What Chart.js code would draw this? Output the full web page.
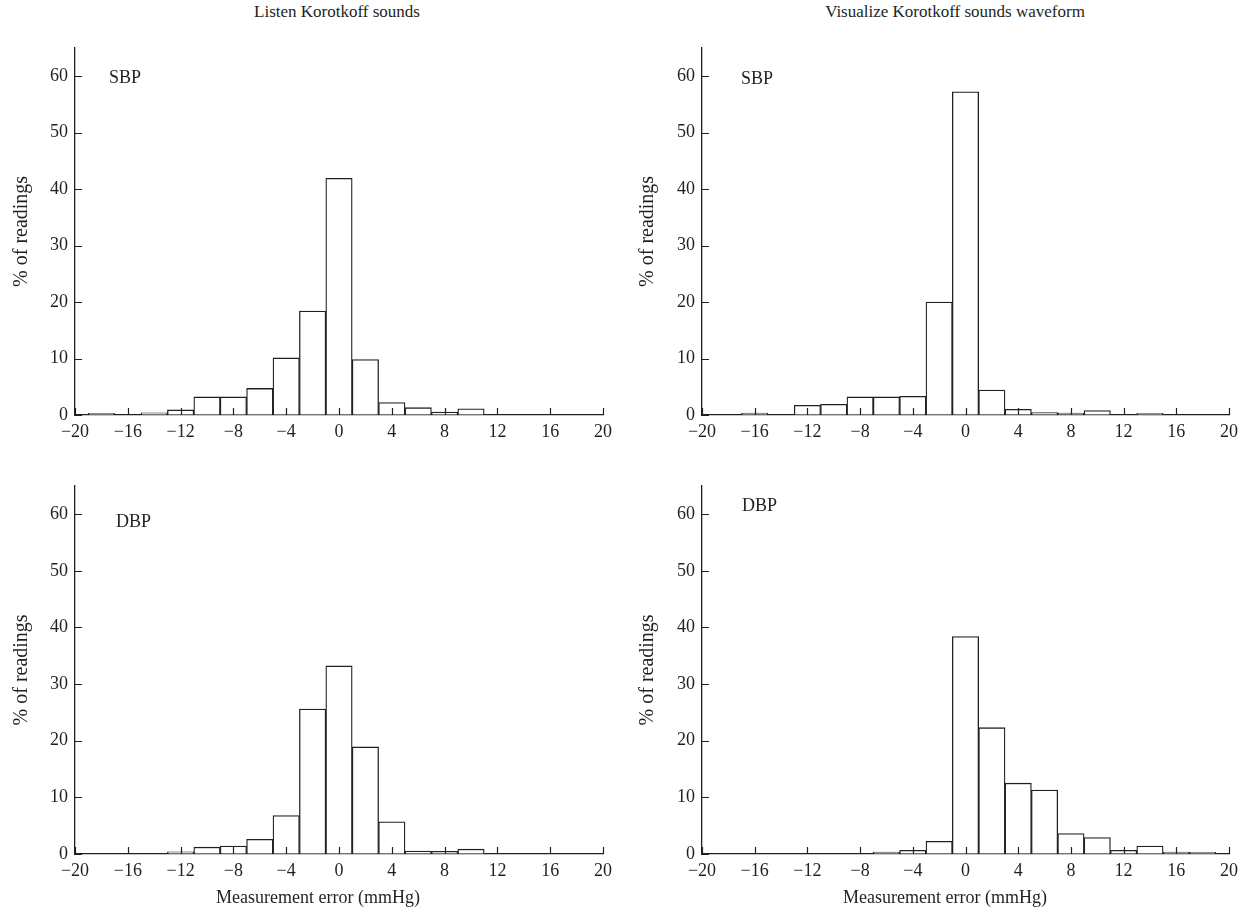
<!DOCTYPE html>
<html>
<head>
<meta charset="utf-8">
<title>Korotkoff measurement error</title>
<script src="https://cdn.jsdelivr.net/npm/chart.js@4"></script>
<style>
  body { margin: 0; background: #fff; }
  #page { position: relative; width: 1249px; height: 915px; overflow: hidden; font-family: "Liberation Serif", "DejaVu Serif", serif; color: #231f20; }
  .panel { position: absolute; }
  .centered { position: absolute; white-space: nowrap; transform: translateX(-50%); }
</style>
</head>
<body>
<div id="page">
  <div class="centered" style="left:337px; top:2px; font-size:17px">Listen Korotkoff sounds</div>
  <div class="centered" style="left:955px; top:2px; font-size:17px">Visualize Korotkoff sounds waveform</div>

  <div class="panel" style="left:0; top:30px"><canvas id="listenSbp" width="620" height="420"></canvas></div>
  <div class="panel" style="left:625px; top:30px"><canvas id="visualSbp" width="624" height="420"></canvas></div>
  <div class="panel" style="left:0; top:468px"><canvas id="listenDbp" width="620" height="420"></canvas></div>
  <div class="panel" style="left:625px; top:468px"><canvas id="visualDbp" width="624" height="420"></canvas></div>

  <div class="centered" style="left:318px; top:887px; font-size:18px">Measurement error (mmHg)</div>
  <div class="centered" style="left:945px; top:887px; font-size:18px">Measurement error (mmHg)</div>
</div>

<script>
// bin centres (mmHg), each bin is 2 mmHg wide
const bins = [-18, -16, -14, -12, -10, -8, -6, -4, -2, 0, 2, 4, 6, 8, 10, 12, 14, 16, 18];

// % of readings per bin
const listenSbp = [0.3, 0, 0.4, 0.9, 3.2, 3.2, 4.7, 10.1, 18.4, 41.9, 9.8, 2.2, 1.3, 0.5, 1.1, 0, 0, 0, 0];
const visualSbp = [0, 0.35, 0, 1.7, 1.9, 3.2, 3.2, 3.3, 20.0, 57.2, 4.4, 1.0, 0.45, 0.35, 0.8, 0, 0.3, 0, 0];
const listenDbp = [0, 0, 0, 0.4, 1.2, 1.4, 2.6, 6.8, 25.6, 33.2, 18.9, 5.7, 0.5, 0.45, 0.85, 0, 0, 0, 0];
const visualDbp = [0, 0, 0, 0, 0, 0, 0.35, 0.65, 2.25, 38.4, 22.3, 12.5, 11.3, 3.6, 2.9, 0.65, 1.4, 0.35, 0.3];

const xTicks = [-20, -16, -12, -8, -4, 0, 4, 8, 12, 16, 20];
const yTicks = [0, 10, 20, 30, 40, 50, 60];

const ink = "#231f20";
const serif = '"Liberation Serif", "DejaVu Serif", serif';

// short ticks drawn inside the plot, plus the SBP / DBP tag
const insideTicks = {
    id: "insideTicks",
    afterDraw(chart, args, opts) {
        const { ctx, chartArea, scales } = chart;
        ctx.save();
        ctx.strokeStyle = ink;
        ctx.lineWidth = 1.2;
        ctx.beginPath();
        scales.x.ticks.forEach(t => {
            const px = Math.round(scales.x.getPixelForValue(t.value)) + 0.5;
            ctx.moveTo(px, chartArea.bottom);
            ctx.lineTo(px, chartArea.bottom - 7);
        });
        scales.y.ticks.forEach(t => {
            const py = Math.round(scales.y.getPixelForValue(t.value)) + 0.5;
            ctx.moveTo(chartArea.left, py);
            ctx.lineTo(chartArea.left + 7, py);
        });
        ctx.stroke();
        ctx.fillStyle = ink;
        ctx.font = "18px " + serif;
        ctx.textBaseline = "middle";
        ctx.fillText(opts.tag, chartArea.left + opts.dx, chartArea.top + opts.dy);
        ctx.restore();
    }
};

function fmt(v) {
    return v < 0 ? "\u2212" + Math.abs(v) : String(v);
}

function makeChart(id, values, tag, geo) {
    new Chart(document.getElementById(id), {
        type: "bar",
        data: {
            datasets: [{
                data: bins.map((b, i) => ({ x: b, y: values[i] })),
                backgroundColor: "#ffffff",
                borderColor: ink,
                borderWidth: 1.3,
                barPercentage: 1,
                categoryPercentage: 1
            }]
        },
        options: {
            responsive: false,
            animation: false,
            layout: { padding: { left: 0, right: geo.right, top: geo.top, bottom: 0 } },
            plugins: {
                legend: { display: false },
                tooltip: { enabled: false },
                insideTicks: { tag: tag, dx: geo.dx, dy: geo.dy }
            },
            scales: {
                x: {
                    type: "linear",
                    offset: false,
                    min: -20,
                    max: 20,
                    afterBuildTicks: s => { s.ticks = xTicks.map(v => ({ value: v })); },
                    afterFit: s => { s.height = geo.xh; },
                    grid: { display: true, drawOnChartArea: false, drawTicks: false, offset: false },
                    border: { color: ink, width: 1.3 },
                    ticks: { color: ink, padding: 6, maxRotation: 0, font: { family: serif, size: 18 }, callback: fmt }
                },
                y: {
                    min: 0,
                    max: 65,
                    afterBuildTicks: s => { s.ticks = yTicks.map(v => ({ value: v })); },
                    afterFit: s => { s.width = geo.yw; },
                    grid: { display: true, drawOnChartArea: false, drawTicks: false },
                    border: { color: ink, width: 1.3 },
                    ticks: { color: ink, padding: 7, font: { family: serif, size: 18 }, callback: fmt },
                    title: {
                        display: true,
                        text: "% of readings",
                        color: ink,
                        font: { family: serif, size: 20 },
                        padding: { top: geo.tp, bottom: 0 }
                    }
                }
            }
        },
        plugins: [insideTicks]
    });
}

makeChart("listenSbp", listenSbp, "SBP", { yw: 75, right: 17, top: 8, xh: 35, tp: 10, dx: 34, dy: 30 });
makeChart("visualSbp", visualSbp, "SBP", { yw: 77, right: 20, top: 8, xh: 35, tp: 11, dx: 39, dy: 31 });
makeChart("listenDbp", listenDbp, "DBP", { yw: 75, right: 17, top: 9, xh: 34, tp: 10, dx: 41, dy: 36 });
makeChart("visualDbp", visualDbp, "DBP", { yw: 77, right: 20, top: 9, xh: 34, tp: 11, dx: 40, dy: 20 });
</script>
</body>
</html>
